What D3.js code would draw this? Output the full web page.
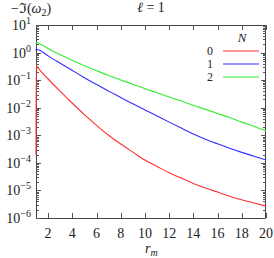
<!DOCTYPE html>
<html>
<head>
<meta charset="utf-8">
<script src="https://d3js.org/d3.v7.min.js"></script>
<style>
body { margin: 0; background: #fff; }
text { font-family: "Liberation Serif", "DejaVu Serif", serif; fill: #222; }
</style>
</head>
<body>
<script>
// values
var rm  = [1.0, 1.02, 1.1, 1.25, 2, 3, 4, 5, 6, 7, 8, 9, 10, 11, 12, 13, 14, 15, 16, 17, 18, 19, 20];
var N0 = [1.9e-4, 0.35, 0.30, 0.25, 0.11, 3.9e-2, 1.45e-2, 5.6e-3, 2.3e-3, 1.0e-3, 4.8e-4, 2.45e-4, 1.26e-4,
          7.4e-5, 4.4e-5, 2.8e-5, 1.8e-5, 1.23e-5, 8.7e-6, 6.2e-6, 4.6e-6, 3.5e-6, 2.7e-6];
var N1 = [1.15, 1.35, 1.3, 1.25, 0.76, 0.41, 0.224, 0.123, 6.9e-2, 4.0e-2, 2.35e-2, 1.38e-2, 8.3e-3,
          5.0e-3, 3.0e-3, 1.82e-3, 1.12e-3, 7.2e-4, 4.9e-4, 3.4e-4, 2.4e-4, 1.74e-4, 1.26e-4];
var N2 = [2.0, 2.35, 2.3, 2.15, 1.41, 0.83, 0.52, 0.33, 0.22, 0.148, 0.102, 7.1e-2, 4.9e-2,
          3.5e-2, 2.45e-2, 1.74e-2, 1.23e-2, 8.7e-3, 6.2e-3, 4.4e-3, 3.0e-3, 2.1e-3, 1.45e-3];
var seriesNames = ["0", "1", "2"];
var colors = ["#ff3030", "#3030ff", "#30f030"];
var xTicks = [2, 4, 6, 8, 10, 12, 14, 16, 18, 20];
var yExps = [1, 0, -1, -2, -3, -4, -5, -6];

var width = 274, height = 258;
var pL = 36, pR = 266, pT = 25, pB = 218;

var svg = d3.select("body").append("svg")
    .attr("width", width)
    .attr("height", height);

var x = d3.scaleLinear().domain([1, 20]).range([pL, pR]);
var y = d3.scaleLog().domain([1e-6, 10]).range([pB, pT]);

// frame (under the curves, like the original)
svg.append("rect")
    .attr("x", pL + 0.5).attr("y", pT + 0.5)
    .attr("width", pR - pL - 1).attr("height", pB - pT)
    .attr("fill", "none").attr("stroke", "#444").attr("stroke-width", 1);

// minor ticks for the log axis
var minor = [];
for (var e = -6; e < 1; e++) {
    for (var k = 2; k < 10; k++) minor.push(k * Math.pow(10, e));
}

var ticks = svg.append("g").attr("stroke", "#555").attr("stroke-width", 1);
minor.forEach(function(v) {
    var yy = Math.round(y(v)) + 0.5;
    ticks.append("line").attr("x1", pL).attr("x2", pL + 3).attr("y1", yy).attr("y2", yy);
    ticks.append("line").attr("x1", pR - 3).attr("x2", pR).attr("y1", yy).attr("y2", yy);
});
yExps.forEach(function(p) {
    var yy = Math.round(y(Math.pow(10, p))) + 0.5;
    ticks.append("line").attr("x1", pL).attr("x2", pL + 5).attr("y1", yy).attr("y2", yy);
    ticks.append("line").attr("x1", pR - 5).attr("x2", pR).attr("y1", yy).attr("y2", yy);
});
xTicks.forEach(function(t) {
    var xx = Math.round(x(t)) + 0.5;
    ticks.append("line").attr("x1", xx).attr("x2", xx).attr("y1", pB).attr("y2", pB - 5);
    ticks.append("line").attr("x1", xx).attr("x2", xx).attr("y1", pT).attr("y2", pT + 5);
});

// y tick labels 10^p
yExps.forEach(function(p) {
    var t = svg.append("text")
        .attr("x", 31)
        .attr("y", y(Math.pow(10, p)) + 5)
        .attr("text-anchor", "end")
        .attr("font-size", 14);
    t.append("tspan").text("10");
    t.append("tspan").attr("dy", -6).attr("font-size", 10).text(p < 0 ? "\u2212" + (-p) : p);
});

// x tick labels
xTicks.forEach(function(t) {
    svg.append("text")
        .attr("x", x(t))
        .attr("y", 238)
        .attr("text-anchor", "middle")
        .attr("font-size", 14)
        .text(t);
});

var line = d3.line()
    .x(function(d) { return x(d[0]); })
    .y(function(d) { return y(d[1]); })
    .curve(d3.curveMonotoneX);

var plot = svg.append("g");
[N0, N1, N2].forEach(function(s, i) {
    plot.append("path")
        .datum(rm.map(function(r, j) { return [r, s[j]]; }))
        .attr("fill", "none")
        .attr("stroke", colors[i])
        .attr("stroke-width", 1.1)
        .attr("d", line);
});

// legend
svg.append("text").attr("x", 242).attr("y", 42).attr("text-anchor", "middle")
    .attr("font-size", 13).attr("font-style", "italic").text("N");
seriesNames.forEach(function(n, i) {
    var yy = 51 + i * 13;
    svg.append("text").attr("x", 213).attr("y", yy + 4).attr("text-anchor", "end")
        .attr("font-size", 12).text(n);
    svg.append("line").attr("x1", 223).attr("x2", 259).attr("y1", yy).attr("y2", yy)
        .attr("stroke", colors[i]).attr("stroke-width", 1.1);
});

// titles
svg.append("text").attr("x", 151).attr("y", 12).attr("text-anchor", "middle")
    .attr("font-size", 14).html('<tspan font-style="italic">\u2113</tspan> = 1');
var yl = svg.append("text").attr("x", 11).attr("y", 13).attr("font-size", 14);
yl.append("tspan").text("\u2212\u2111(");
yl.append("tspan").attr("font-style", "italic").text("\u03c9");
yl.append("tspan").attr("dy", 3).attr("font-size", 10).text("2");
yl.append("tspan").attr("dy", -3).text(")");

var xl = svg.append("text").attr("x", 145).attr("y", 253).attr("font-size", 14);
xl.append("tspan").attr("font-style", "italic").text("r");
xl.append("tspan").attr("dy", 3).attr("font-size", 10).attr("font-style", "italic").text("m");
</script>
</body>
</html>
